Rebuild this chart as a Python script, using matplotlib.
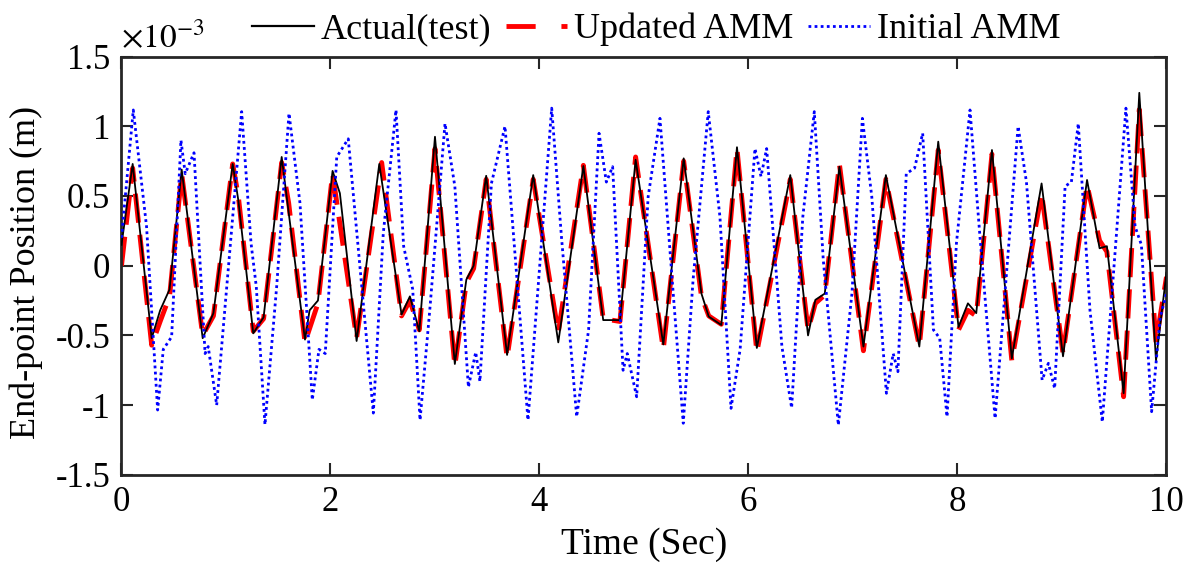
import matplotlib
matplotlib.use('Agg')
import matplotlib.pyplot as plt
import matplotlib.ticker as mticker
from matplotlib.lines import Line2D

# values in units of 1e-3 m
ACT_T = [0, 0.107, 0.289, 0.37, 0.46, 0.576, 0.777, 0.88, 1.064, 1.118, 1.261, 1.36,
         1.533, 1.60, 1.756, 1.80, 1.88, 2.02, 2.09, 2.25, 2.467, 2.68, 2.76, 2.85,
         3.0, 3.19, 3.30, 3.37, 3.49, 3.69, 3.94, 4.18, 4.42, 4.61, 4.77, 4.92,
         5.185, 5.38, 5.55, 5.62, 5.74, 5.89, 6.08, 6.40, 6.57, 6.64, 6.73, 6.87,
         7.10, 7.315, 7.635, 7.816, 8.01, 8.10, 8.18, 8.33, 8.52, 8.805, 9.01, 9.24,
         9.36, 9.43, 9.59, 9.74, 9.90, 10.0]
ACT_Y = [0.15, 0.73, -0.52, -0.32, -0.17, 0.69, -0.52, -0.34, 0.73, 0.47, -0.485, -0.37,
         0.78, 0.38, -0.53, -0.32, -0.25, 0.68, 0.52, -0.54, 0.73, -0.35, -0.22, -0.47,
         0.925, -0.705, -0.10, 0.0, 0.645, -0.64, 0.65, -0.55, 0.715, -0.39, -0.39, 0.76,
         -0.565, 0.77, -0.20, -0.365, -0.425, 0.85, -0.59, 0.65, -0.50, -0.245, -0.20, 0.71,
         -0.58, 0.65, -0.58, 0.89, -0.44, -0.27, -0.34, 0.83, -0.665, 0.59, -0.65, 0.615,
         0.125, 0.14, -0.915, 1.24, -0.68, -0.05]

UPD_T = [0, 0.107, 0.289, 0.37, 0.46, 0.576, 0.777, 0.88, 1.064, 1.118, 1.261, 1.36,
         1.533, 1.60, 1.756, 1.88, 2.02, 2.25, 2.49, 2.68, 2.76, 2.85, 3.0, 3.19,
         3.30, 3.37, 3.49, 3.69, 3.94, 4.18, 4.42, 4.61, 4.77, 4.92, 5.185, 5.38,
         5.55, 5.62, 5.74, 5.89, 6.08, 6.40, 6.57, 6.64, 6.73, 6.87, 7.10, 7.315,
         7.635, 7.816, 8.01, 8.10, 8.18, 8.33, 8.52, 8.805, 9.01, 9.24, 9.36, 9.43,
         9.59, 9.74, 9.90, 10.0]
UPD_Y = [0.0, 0.70, -0.57, -0.40, -0.22, 0.66, -0.50, -0.36, 0.73, 0.50, -0.47, -0.38,
         0.74, 0.45, -0.55, -0.27, 0.66, -0.52, 0.74, -0.36, -0.25, -0.46, 0.84, -0.72,
         -0.12, -0.02, 0.62, -0.66, 0.62, -0.48, 0.72, -0.38, -0.40, 0.78, -0.60, 0.75,
         -0.22, -0.36, -0.42, 0.84, -0.62, 0.62, -0.46, -0.27, -0.21, 0.73, -0.61, 0.62,
         -0.58, 0.83, -0.46, -0.32, -0.36, 0.80, -0.68, 0.52, -0.63, 0.58, 0.18, 0.10,
         -0.94, 1.12, -0.55, -0.08]

INI_T = [0, 0.113, 0.24, 0.346, 0.40, 0.48, 0.569, 0.61, 0.694, 0.80, 0.83, 0.911,
         1.15, 1.24, 1.29, 1.373, 1.485, 1.603, 1.708, 1.826, 1.89, 1.95, 2.06, 2.17,
         2.41, 2.505, 2.627, 2.70, 2.787, 2.857, 2.95, 3.096, 3.19, 3.32, 3.39, 3.43,
         3.54, 3.67, 3.89, 4.117, 4.21, 4.356, 4.47, 4.57, 4.64, 4.70, 4.80, 4.84,
         4.93, 5.04, 5.153, 5.28, 5.376, 5.47, 5.615, 5.727, 5.833, 5.92, 6.062, 6.12,
         6.174, 6.32, 6.413, 6.52, 6.63, 6.716, 6.86, 6.99, 7.09, 7.18, 7.32, 7.385,
         7.43, 7.51, 7.59, 7.667, 7.77, 7.83, 7.90, 7.99, 8.12, 8.215, 8.36, 8.58,
         8.66, 8.81, 8.87, 8.93, 9.03, 9.09, 9.156, 9.268, 9.386, 9.612, 9.70, 9.76,
         9.858, 9.94, 10.0]
INI_Y = [0.2, 1.117, 0.28, -1.035, -0.60, -0.51, 0.90, 0.66, 0.81, -0.63, -0.58, -1.0,
         1.105, 0.16, -0.15, -1.14, -0.15, 1.093, 0.45, -0.963, -0.60, -0.63, 0.78, 0.91,
         -1.057, 0.23, 1.117, 0.14, -0.17, -1.107, -0.32, 1.02, 0.57, -0.87, -0.62, -0.83,
         0.59, 1.0, -1.107, 1.13, 0.21, -1.083, -0.46, 0.95, 0.60, 0.71, -0.75, -0.63,
         -0.94, 0.495, 1.057, -0.20, -1.13, -0.10, 1.105, 0.35, -1.023, -0.60, 0.84, 0.64,
         0.84, -0.58, -1.02, 0.35, 1.105, 0.04, -1.143, -0.20, 1.057, 0.495, -0.915, -0.63,
         -0.76, 0.66, 0.70, 0.95, -0.46, -0.52, -1.083, 0.16, 1.117, 0.21, -1.095, 1.0,
         0.60, -0.82, -0.70, -0.88, 0.57, 0.60, 1.02, -0.32, -1.12, 1.13, 0.28, 0.15,
         -1.047, -0.37, -0.2]

LABELS = ['Actual(test)', 'Updated AMM', 'Initial AMM']
X_TICKS = [0, 2, 4, 6, 8, 10]
Y_TICKS = [-1.5, -1, -0.5, 0, 0.5, 1, 1.5]

plt.rcParams.update({
    'font.family': ['Liberation Serif', 'DejaVu Serif'],
    'mathtext.fontset': 'stix',
    'font.size': 25,
})

AX_COL = '#262626'
RED_DASH = (6, 2.5)
BLUE_DOT = (1, 1.2)

fig = plt.figure(figsize=(11.91, 5.68), dpi=100)
ax = fig.add_axes([0.102, 0.164, 0.8774, 0.7364])

ax.plot(ACT_T, ACT_Y, color='black', lw=1.3, zorder=3, solid_joinstyle='round')
ax.plot(UPD_T, UPD_Y, color='#ff0000', lw=3.5, dashes=RED_DASH, zorder=2,
        dash_joinstyle='round')
ax.plot(INI_T, INI_Y, color='#0000ff', lw=2.0, dashes=BLUE_DOT, zorder=4)

ax.set_xlim(0, 10)
ax.set_ylim(-1.5, 1.5)
ax.set_xticks(X_TICKS)
ax.set_yticks(Y_TICKS)
ax.yaxis.set_major_formatter(mticker.FuncFormatter(lambda v, p: f'{v:g}'))
ax.tick_params(direction='in', length=8.5, width=1.5, color=AX_COL,
               top=True, right=True, labelsize=25)
ax.tick_params(axis='y', pad=8)
ax.tick_params(axis='x', pad=8)
for s in ax.spines.values():
    s.set_linewidth(2.0)
    s.set_color(AX_COL)

ax.set_xlabel('Time (Sec)', fontsize=27)
ax.set_ylabel('End-point Position (m)', fontsize=26)
ax.xaxis.set_label_coords(0.5, -0.125)
ax.yaxis.set_label_coords(-0.075, 0.485)

ax.text(0.0, 1.005, r'$\times10^{-3}$', transform=ax.transAxes,
        ha='left', va='bottom', fontsize=24)

handles = [
    Line2D([], [], color='black', lw=1.6),
    Line2D([], [], color='#ff0000', lw=3.5, dashes=(6, 5.3)),
    Line2D([], [], color='#0000ff', lw=2.0, dashes=BLUE_DOT),
]
fig.legend(handles, LABELS, loc='center', bbox_to_anchor=(0.551, 0.948), ncol=3,
           frameon=False, handlelength=1.7, handletextpad=0.2,
           columnspacing=0.4, fontsize=26, borderaxespad=0, borderpad=0)

fig.savefig('out.png', dpi=100)
